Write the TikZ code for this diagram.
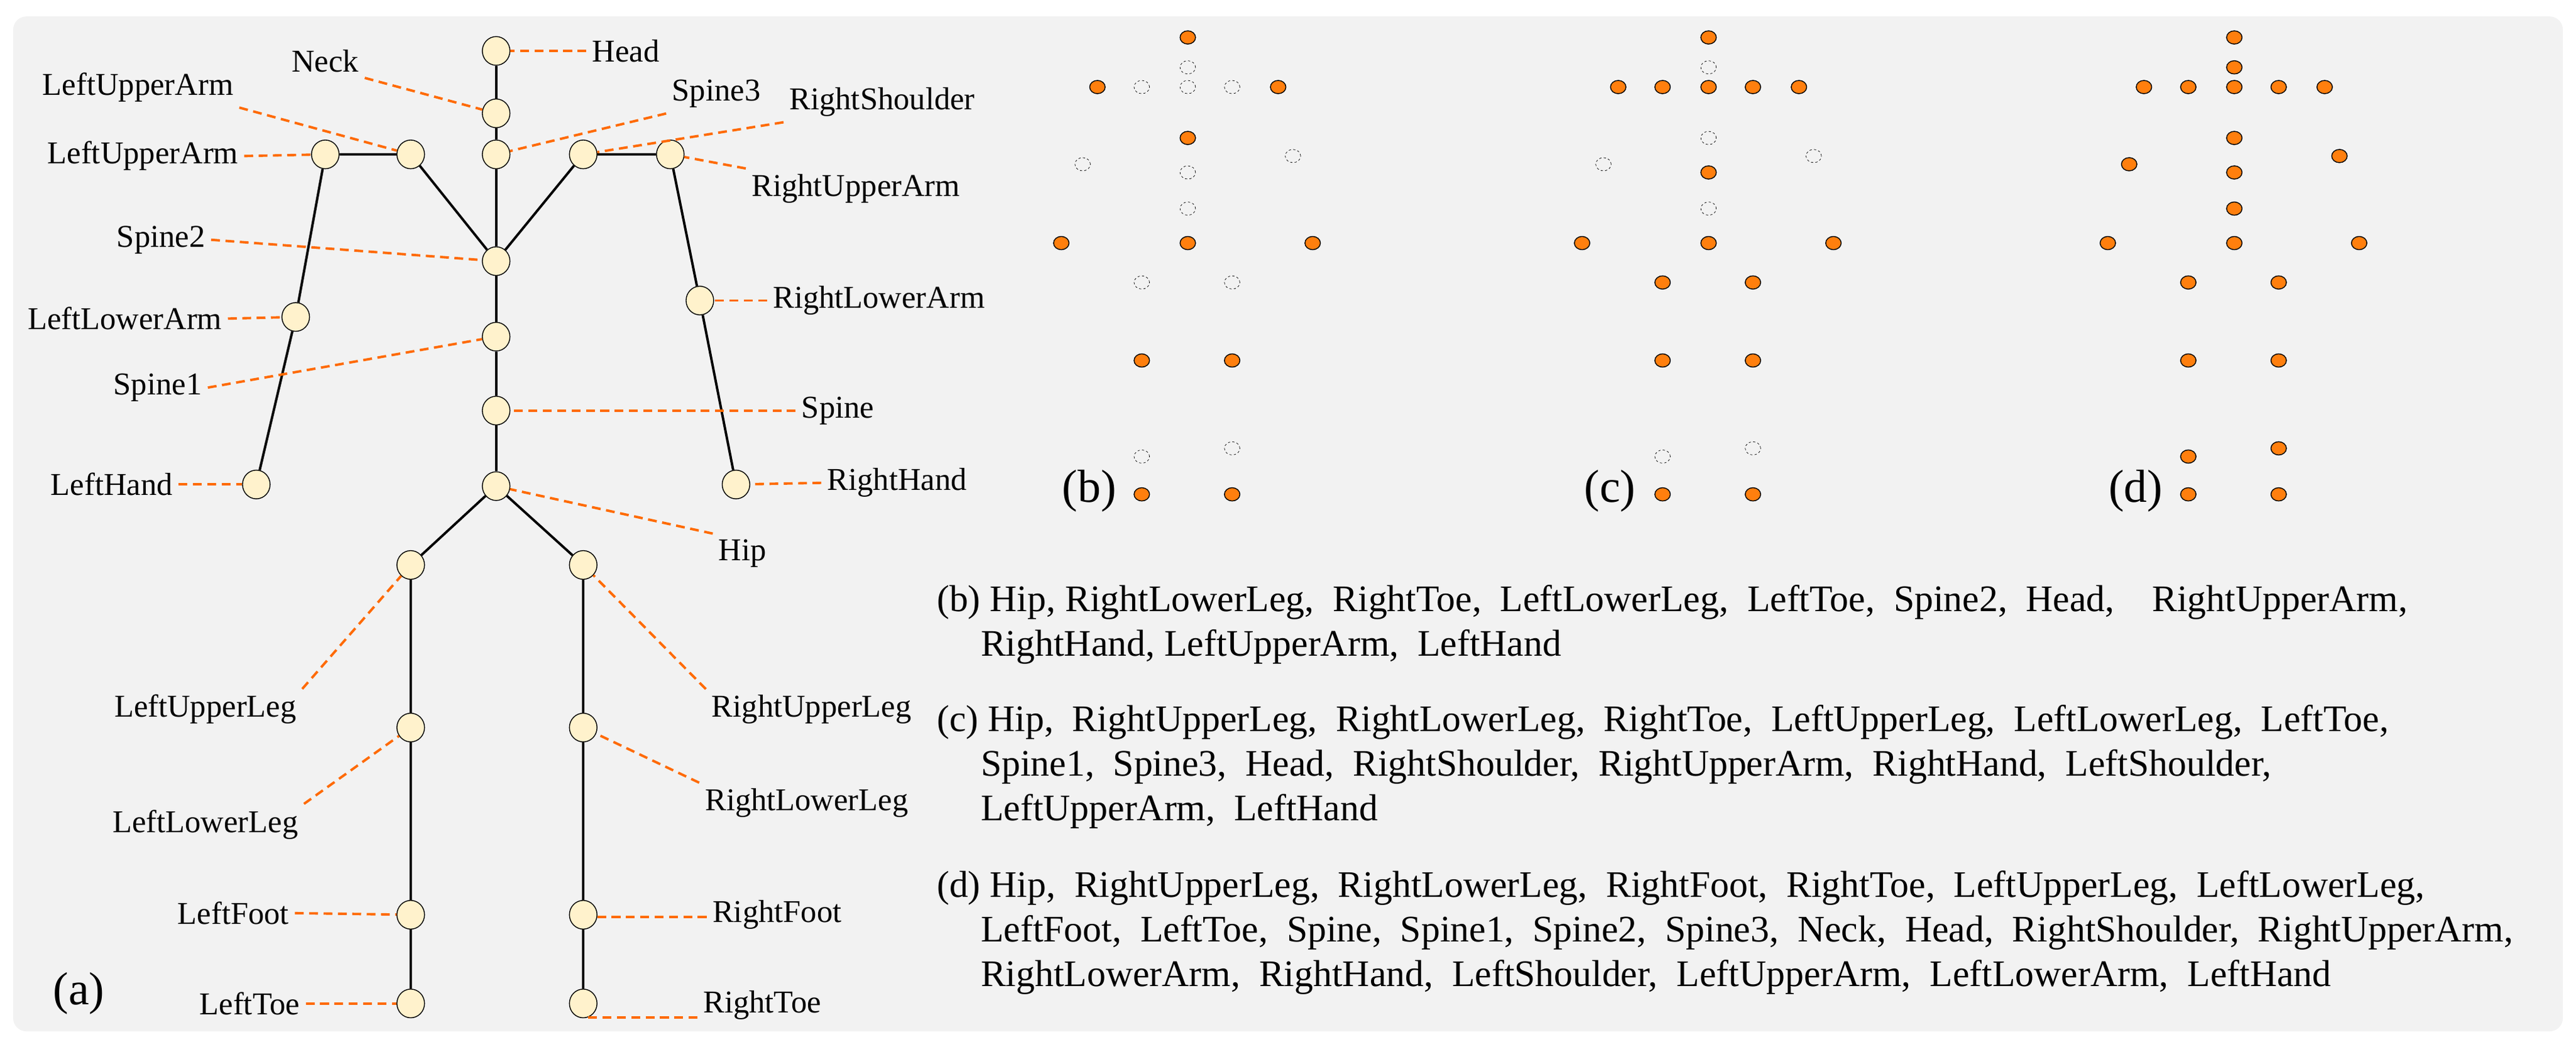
\documentclass[tikz,border=0pt]{standalone}
\usepackage{fontspec}
\setmainfont{Liberation Serif}
\usetikzlibrary{calc, shapes.geometric}
\definecolor{bgGray}{HTML}{F2F2F2}
\definecolor{leadOrange}{HTML}{FF6A00}
\definecolor{dotOrange}{HTML}{FF7F0E}
\definecolor{jointCream}{HTML}{FFF2CC}

\newcommand{\dotPanel}[3]{%
  \foreach \j in {Head,Neck,Spine3,LShoulder,RShoulder,LUpperArm,RUpperArm,Spine2,
    LLowerArm,RLowerArm,Spine1,Spine,Hip,LHand,RHand,LUpperLeg,RUpperLeg,
    LLowerLeg,RLowerLeg,LFoot,RFoot,LToe,RToe}
    \node[MissStyle] (#1-m-\j) at ($(P\j)+(#2,0)$) {};
  \foreach \j in {#3}
    \node[DotStyle] (#1-\j) at ($(P\j)+(#2,0)$) {};
}

\begin{document}
\begin{tikzpicture}[x=0.02615cm, y=-0.02615cm]
\tikzset{JointStyle/.style = {ellipse, draw, fill=jointCream, minimum width=12.5, minimum height=13, inner sep=0pt},
  LeadStyle/.style = {leadOrange, line width=1.1pt, dash pattern=on 4pt off 2.5pt},
  LabelStyle/.style = {font=\fontsize{14.4}{16}\selectfont, inner sep=2.5pt},
  DotStyle/.style = {ellipse, draw, fill=dotOrange, minimum width=7, minimum height=6, inner sep=0pt, thin},
  MissStyle/.style = {ellipse, draw, dashed, dash pattern=on 1pt off 1pt, minimum width=7, minimum height=6, inner sep=0pt, very thin},
  PanelStyle/.style = {font=\fontsize{21}{24}\selectfont},
  BoneStyle/.style = {line width=1.1pt}
}
    \useasboundingbox (0,0) rectangle (1568,637.5);
    \fill[bgGray, rounded corners=6pt] (8,10) rectangle (1560,628);

    % skeleton joints
    \node[JointStyle] (Head)      at (302,31)  {};
    \node[JointStyle] (Neck)      at (302,69)  {};
    \node[JointStyle] (Spine3)    at (302,94)  {};
    \node[JointStyle] (Spine2)    at (302,159) {};
    \node[JointStyle] (Spine1)    at (302,205) {};
    \node[JointStyle] (Spine)     at (302,250) {};
    \node[JointStyle] (Hip)       at (302,296) {};
    \node[JointStyle] (LShoulder) at (250,94)  {};
    \node[JointStyle] (LUpperArm) at (198,94)  {};
    \node[JointStyle] (LLowerArm) at (180,193) {};
    \node[JointStyle] (LHand)     at (156,295) {};
    \node[JointStyle] (RShoulder) at (355,94)  {};
    \node[JointStyle] (RUpperArm) at (408,94)  {};
    \node[JointStyle] (RLowerArm) at (426,183) {};
    \node[JointStyle] (RHand)     at (448,295) {};
    \node[JointStyle] (LUpperLeg) at (250,344) {};
    \node[JointStyle] (LLowerLeg) at (250,443) {};
    \node[JointStyle] (LFoot)     at (250,557) {};
    \node[JointStyle] (LToe)      at (250,611) {};
    \node[JointStyle] (RUpperLeg) at (355,344) {};
    \node[JointStyle] (RLowerLeg) at (355,443) {};
    \node[JointStyle] (RFoot)     at (355,557) {};
    \node[JointStyle] (RToe)      at (355,611) {};

    % bones
    \draw[BoneStyle] (Head) -- (Neck) -- (Spine3) -- (Spine2) -- (Spine1) -- (Spine) -- (Hip);
    \draw[BoneStyle] (Spine2) -- (LShoulder) -- (LUpperArm) -- (LLowerArm) -- (LHand);
    \draw[BoneStyle] (Spine2) -- (RShoulder) -- (RUpperArm) -- (RLowerArm) -- (RHand);
    \draw[BoneStyle] (Hip) -- (LUpperLeg) -- (LLowerLeg) -- (LFoot) -- (LToe);
    \draw[BoneStyle] (Hip) -- (RUpperLeg) -- (RLowerLeg) -- (RFoot) -- (RToe);

    % labels
    \node[LabelStyle] (tHead)   at (381,31)  {Head};
    \node[LabelStyle] (tNeck)   at (198,37)  {Neck};
    \node[LabelStyle] (tLSh)    at (84,53)   {LeftUpperArm};
    \node[LabelStyle] (tLUA)    at (87,95)   {LeftUpperArm};
    \node[LabelStyle] (tSp3)    at (436,57)  {Spine3};
    \node[LabelStyle] (tRSh)    at (537,62)  {RightShoulder};
    \node[LabelStyle] (tRUA)    at (521,115) {RightUpperArm};
    \node[LabelStyle] (tSp2)    at (98,146)  {Spine2};
    \node[LabelStyle] (tLLA)    at (76,194)  {LeftLowerArm};
    \node[LabelStyle] (tRLA)    at (535,183) {RightLowerArm};
    \node[LabelStyle] (tSp1)    at (96,236)  {Spine1};
    \node[LabelStyle] (tSp)     at (510,250) {Spine};
    \node[LabelStyle] (tLH)     at (68,295)  {LeftHand};
    \node[LabelStyle] (tRH)     at (546,294) {RightHand};
    \node[LabelStyle] (tHip)    at (452,337) {Hip};
    \node[LabelStyle] (tLUL)    at (125,432) {LeftUpperLeg};
    \node[LabelStyle] (tRUL)    at (494,432) {RightUpperLeg};
    \node[LabelStyle] (tLLL)    at (125,502) {LeftLowerLeg};
    \node[LabelStyle] (tRLL)    at (491,489) {RightLowerLeg};
    \node[LabelStyle] (tLF)     at (142,556) {LeftFoot};
    \node[LabelStyle] (tRF)     at (473,557) {RightFoot};
    \node[LabelStyle] (tLT)     at (152,611) {LeftToe};
    \node[LabelStyle] (tRT)     at (464,612) {RightToe};

    % leader lines
    \draw[LeadStyle] (tHead.west) -- (Head);
    \draw[LeadStyle] (tNeck.south east) -- (Neck);
    \draw[LeadStyle] (tLSh.south east) -- (LShoulder);
    \draw[LeadStyle] (tLUA.east) -- (LUpperArm);
    \draw[LeadStyle] (tSp3.south west) -- (Spine3);
    \draw[LeadStyle] (tRSh.south west) -- (RShoulder);
    \draw[LeadStyle] (tRUA.north west) -- (RUpperArm);
    \draw[LeadStyle] (tSp2.east) -- (Spine2);
    \draw[LeadStyle] (tLLA.east) -- (LLowerArm);
    \draw[LeadStyle] (tRLA.west) -- (RLowerArm);
    \draw[LeadStyle] (tSp1.east) -- (Spine1);
    \draw[LeadStyle] (tSp.west) -- (Spine);
    \draw[LeadStyle] (tLH.east) -- (LHand);
    \draw[LeadStyle] (tRH.west) -- (RHand);
    \draw[LeadStyle] (tHip.north west) -- (Hip);
    \draw[LeadStyle] (tLUL.north east) -- (LUpperLeg);
    \draw[LeadStyle] (tRUL.north west) -- (RUpperLeg);
    \draw[LeadStyle] (tLLL.north east) -- (LLowerLeg);
    \draw[LeadStyle] (tRLL.north west) -- (RLowerLeg);
    \draw[LeadStyle] (tLF.east) -- (LFoot);
    \draw[LeadStyle] (RFoot.-10) -- (RFoot.-10 -| tRF.west);
    \draw[LeadStyle] (tLT.east) -- (LToe);
    \draw[LeadStyle] (RToe.-70) -- (RToe.-70 -| tRT.west);

    \node[PanelStyle] (la) at (48,605) {(a)};

    % joint positions for the dot panels
    \coordinate (PHead) at (723,22.8);
    \coordinate (PNeck) at (723,41);
    \coordinate (PSpine3) at (723,53);
    \coordinate (PLShoulder) at (695,53);
    \coordinate (PRShoulder) at (750,53);
    \coordinate (PLUpperArm) at (668,53);
    \coordinate (PRUpperArm) at (778,53);
    \coordinate (PSpine2) at (723,84);
    \coordinate (PLLowerArm) at (659,100);
    \coordinate (PRLowerArm) at (787,95);
    \coordinate (PSpine1) at (723,105);
    \coordinate (PSpine) at (723,127);
    \coordinate (PHip) at (723,148);
    \coordinate (PLHand) at (646,148);
    \coordinate (PRHand) at (799,148);
    \coordinate (PLUpperLeg) at (695,172);
    \coordinate (PRUpperLeg) at (750,172);
    \coordinate (PLLowerLeg) at (695,219.5);
    \coordinate (PRLowerLeg) at (750,219.5);
    \coordinate (PLFoot) at (695,278);
    \coordinate (PRFoot) at (750,273);
    \coordinate (PLToe) at (695,301);
    \coordinate (PRToe) at (750,301);

    \dotPanel{b}{0}{Hip,RLowerLeg,RToe,LLowerLeg,LToe,Spine2,Head,RUpperArm,RHand,LUpperArm,LHand}
    \dotPanel{c}{317}{Hip,RUpperLeg,RLowerLeg,RToe,LUpperLeg,LLowerLeg,LToe,Spine1,Spine3,Head,RShoulder,RUpperArm,RHand,LShoulder,LUpperArm,LHand}
    \dotPanel{d}{637}{Head,Neck,Spine3,LShoulder,RShoulder,LUpperArm,RUpperArm,Spine2,LLowerArm,RLowerArm,Spine1,Spine,Hip,LHand,RHand,LUpperLeg,RUpperLeg,LLowerLeg,RLowerLeg,LFoot,RFoot,LToe,RToe}

    \node[PanelStyle] (lb) at (663,299) {(b)};
    \node[PanelStyle] (lc) at (980,299) {(c)};
    \node[PanelStyle] (ld) at (1300,299) {(d)};

    % joint lists
    \tikzset{ListStyle/.style = {anchor=north west, align=left, inner sep=0pt, font=\fontsize{17}{20.2}\selectfont}}
    \node[ListStyle] (listb) at (570,356) {(b) Hip, RightLowerLeg, \ RightToe, \ LeftLowerLeg, \ LeftToe, \ Spine2, \ Head, \ \ \ RightUpperArm,\\
      \hspace*{0.7cm}RightHand, LeftUpperArm, \ LeftHand};
    \node[ListStyle] (listc) at (570,429) {(c) Hip, \ RightUpperLeg, \ RightLowerLeg, \ RightToe, \ LeftUpperLeg, \ LeftLowerLeg, \ LeftToe,\\
      \hspace*{0.7cm}Spine1, \ Spine3, \ Head, \ RightShoulder, \ RightUpperArm, \ RightHand, \ LeftShoulder,\\
      \hspace*{0.7cm}LeftUpperArm, \ LeftHand};
    \node[ListStyle] (listd) at (570,530) {(d) Hip, \ RightUpperLeg, \ RightLowerLeg, \ RightFoot, \ RightToe, \ LeftUpperLeg, \ LeftLowerLeg,\\
      \hspace*{0.7cm}LeftFoot, \ LeftToe, \ Spine, \ Spine1, \ Spine2, \ Spine3, \ Neck, \ Head, \ RightShoulder, \ RightUpperArm,\\
      \hspace*{0.7cm}RightLowerArm, \ RightHand, \ LeftShoulder, \ LeftUpperArm, \ LeftLowerArm, \ LeftHand};
\end{tikzpicture}
\end{document}
